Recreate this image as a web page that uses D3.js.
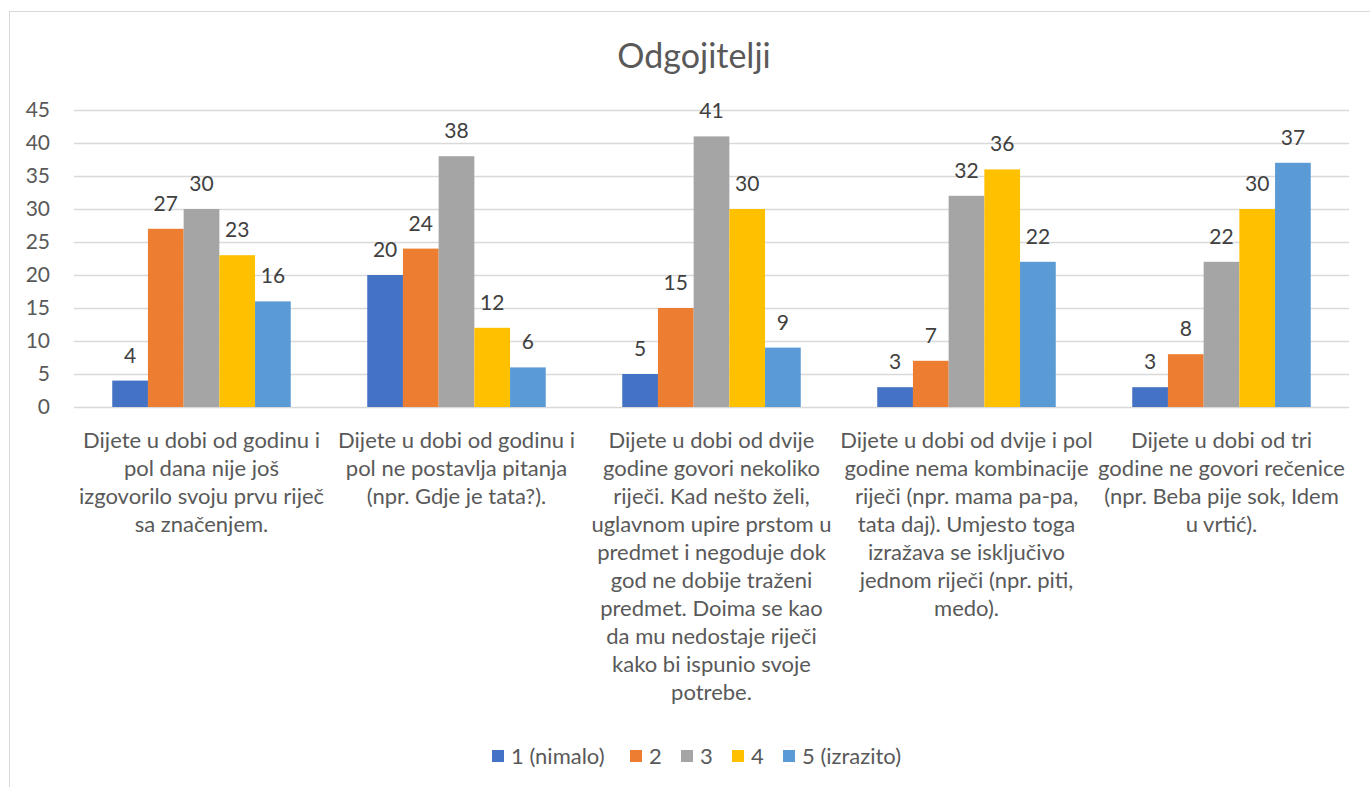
<!DOCTYPE html>
<html>
<head>
<meta charset="utf-8">
<script src="https://cdn.jsdelivr.net/npm/d3@7"></script>
<style>
body { margin: 0; background: #fff; }
text { font-family: Lato, "Open Sans", sans-serif; }
</style>
</head>
<body>
<svg width="1370" height="787"></svg>
<script>
var categories = [
 ["Dijete u dobi od godinu i", "pol dana nije još", "izgovorilo svoju prvu riječ", "sa značenjem."],
 ["Dijete u dobi od godinu i", "pol ne postavlja pitanja", "(npr. Gdje je tata?)."],
 ["Dijete u dobi od dvije", "godine govori nekoliko", "riječi. Kad nešto želi,", "uglavnom upire prstom u", "predmet i negoduje dok", "god ne dobije traženi", "predmet. Doima se kao", "da mu nedostaje riječi", "kako bi ispunio svoje", "potrebe."],
 ["Dijete u dobi od dvije i pol", "godine nema kombinacije", "riječi (npr. mama pa-pa,", "tata daj). Umjesto toga", "izražava se isključivo", "jednom riječi (npr. piti,", "medo)."],
 ["Dijete u dobi od tri", "godine ne govori rečenice", "(npr. Beba pije sok, Idem", "u vrtić)."]
];
var seriesNames = ["1 (nimalo)", "2", "3", "4", "5 (izrazito)"];
var s1 = [4, 20, 5, 3, 3];
var s2 = [27, 24, 15, 7, 8];
var s3 = [30, 38, 41, 32, 22];
var s4 = [23, 12, 30, 36, 30];
var s5 = [16, 6, 9, 22, 37];
var yTicks = [0, 5, 10, 15, 20, 25, 30, 35, 40, 45];
var colors = ["#4472C4", "#ED7D31", "#A5A5A5", "#FFC000", "#5B9BD5"];

var series = [s1, s2, s3, s4, s5];
var svg = d3.select("svg");

// chart border
svg.append("rect")
 .attr("x", 9.5).attr("y", 11.5)
 .attr("width", 1380).attr("height", 800)
 .attr("fill", "none").attr("stroke", "#d9d9d9");

var plotLeft = 74, plotRight = 1349, plotTop = 110, plotBottom = 407;

var x0 = d3.scaleBand().domain(d3.range(categories.length)).range([plotLeft, plotRight]).paddingInner(0.3).paddingOuter(0.15);
var x1 = d3.scaleBand().domain(d3.range(series.length)).range([0, x0.bandwidth()]);
var y = d3.scaleLinear().domain([0, 45]).range([plotBottom, plotTop]);

// gridlines
svg.append("g").selectAll("line").data(yTicks).enter().append("line")
 .attr("x1", plotLeft).attr("x2", plotRight)
 .attr("y1", function (d) { return Math.round(y(d)) + 0.5 })
 .attr("y2", function (d) { return Math.round(y(d)) + 0.5 })
 .attr("stroke", "#d9d9d9").attr("stroke-width", 1.3);

// y labels
svg.append("g").selectAll("text").data(yTicks).enter().append("text")
 .attr("x", 50).attr("y", function (d) { return y(d) })
 .attr("dy", "0.35em").attr("text-anchor", "end")
 .attr("font-size", 21).attr("fill", "#595959")
 .text(function (d) { return d });

// bars
var groups = svg.append("g").selectAll("g").data(categories).enter().append("g")
 .attr("transform", function (d, i) { return "translate(" + x0(i) + ",0)" });

groups.each(function (c, ci) {
 var g = d3.select(this);
 series.forEach(function (s, si) {
   g.append("rect")
     .attr("x", x1(si)).attr("width", x1.bandwidth())
     .attr("y", y(s[ci])).attr("height", y(0) - y(s[ci]))
     .attr("fill", colors[si]);
   g.append("text")
     .attr("x", x1(si) + x1.bandwidth() / 2)
     .attr("y", y(s[ci]) - 18)
     .attr("text-anchor", "middle")
     .attr("font-size", 21).attr("fill", "#404040")
     .text(s[ci]);
 });
});

// category labels
groups.each(function (c, ci) {
 var t = d3.select(this).append("text")
   .attr("text-anchor", "middle")
   .attr("font-size", 22).attr("fill", "#595959");
 c.forEach(function (line, li) {
   t.append("tspan")
     .attr("x", x0.bandwidth() / 2)
     .attr("y", 448 + li * 28)
     .text(line);
 });
});

// title
svg.append("text")
 .attr("x", 694).attr("y", 68)
 .attr("text-anchor", "middle")
 .attr("font-size", 34).attr("fill", "#595959")
 .text("Odgojitelji");

// legend
var legendX = [492, 630, 681, 732, 783];
var legend = svg.append("g").selectAll("g").data(seriesNames).enter().append("g")
 .attr("transform", function (d, i) { return "translate(" + legendX[i] + ",750)" });
legend.append("rect").attr("width", 12).attr("height", 12)
 .attr("fill", function (d, i) { return colors[i] });
legend.append("text").attr("x", 19).attr("y", 6).attr("dy", "0.35em")
 .attr("font-size", 22).attr("fill", "#595959")
 .text(function (d) { return d });
</script>
</body>
</html>
